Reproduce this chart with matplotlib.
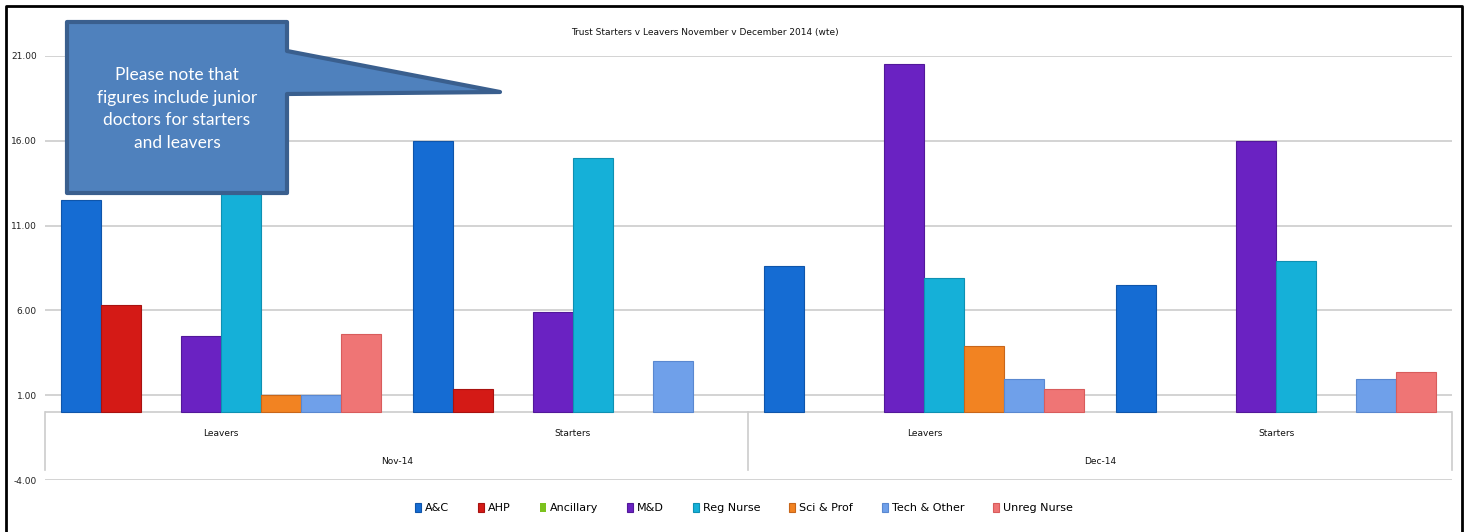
import matplotlib.pyplot as plt
from matplotlib.patches import Polygon
from matplotlib.lines import Line2D
import numpy as np

# ── Données ──
months = ["Nov-14", "Dec-14"]
groups = ["Leavers", "Starters", "Leavers", "Starters"]
staff = ["A&C", "AHP", "Ancillary", "M&D", "Reg Nurse", "Sci & Prof", "Tech & Other", "Unreg Nurse"]
colors = ["#156CD3", "#D41A16", "#7CC21E", "#6A22C2", "#15B0D8", "#F28322", "#6FA0EA", "#EF7575"]
edges = ["#0F55AA", "#A81210", "#5E9A14", "#52189A", "#0E90B2", "#C8661A", "#5A88D0", "#D85C5C"]

nov_leavers = [12.5, 6.3, 0, 4.5, 14.0, 1.0, 1.0, 4.6]
nov_starters = [16.0, 1.35, 0, 5.9, 15.0, 0, 3.0, 0]
dec_leavers = [8.6, 0, 0, 20.5, 7.9, 3.9, 1.95, 1.35]
dec_starters = [7.5, 0, 0, 16.0, 8.9, 0, 1.95, 2.35]
values = np.array([nov_leavers, nov_starters, dec_leavers, dec_starters])

yticks = [-4, 1, 6, 11, 16, 21]

W, H = 1469, 532
fig = plt.figure(figsize=(W / 100, H / 100), dpi=100)
fig.patch.set_facecolor("white")
font = ["DejaVu Sans"]

# zone du graphique (pixels -> fraction)
x0, x1 = 45, 1452
y_top, y_bot = 56, 480
ax = fig.add_axes([x0 / W, 1 - y_bot / H, (x1 - x0) / W, (y_bot - y_top) / H])
ax.set_xlim(-0.5, 3.5)
ax.set_ylim(-4, 21)
for s in ax.spines.values():
    s.set_visible(False)
ax.set_yticks(yticks)
ax.set_yticklabels([f"{t:.2f}" for t in yticks], fontsize=6.5, family=font, color="#222222")
ax.tick_params(axis="y", length=0, pad=6)
ax.set_xticks([])
ax.yaxis.grid(True, color="#CCCCCC", lw=1.2)
ax.set_axisbelow(True)

# ── Barres ──
n = len(staff)
bw = (1 - 0.0909) / n
x = np.arange(len(groups))
for i in range(n):
    pos = x - 0.5 + 0.0909 / 2 + bw * (i + 0.5)
    vals = values[:, i]
    lws = [0.8 if v > 0 else 0 for v in vals]
    ax.bar(pos, vals, bw, color=colors[i], edgecolor=edges[i], linewidth=lws, label=staff[i], zorder=3)

# ── Axe des catégories (multi-niveaux) ──
ax.axhline(0, color="#CCCCCC", lw=1.2, zorder=2)
for xv in [-0.5, 1.5, 3.5]:
    ax.plot([xv, xv], [0, -3.4], color="#CCCCCC", lw=1.2, clip_on=False)
for xi, g in zip(x, groups):
    ax.text(xi, -1.25, g, ha="center", va="center", fontsize=6.5, family=font, color="#111111")
for mi, m in enumerate(months):
    ax.text(0.5 + 2 * mi, -2.9, m, ha="center", va="center", fontsize=6.5, family=font, color="#111111")

# ── Titre ──
fig.text(705 / W, 1 - 32 / H, "Trust Starters v Leavers November v December 2014 (wte)",
         ha="center", va="center", fontsize=6.5, family=font, color="#111111")

# ── Légende ──
leg = fig.legend(loc="center", bbox_to_anchor=(744 / W, 1 - 508 / H), ncol=8, frameon=False,
                 handlelength=0.55, handleheight=0.9, handletextpad=0.35, columnspacing=2.6,
                 prop={"family": font, "size": 8})

# ── Bulle d'annotation ──
def fp(px, py):
    return (px / W, 1 - py / H)

callout = [fp(67, 22), fp(287, 22), fp(287, 51), fp(500, 92), fp(287, 94), fp(287, 193), fp(67, 193)]
fig.patches.append(Polygon(callout, closed=True, transform=fig.transFigure, facecolor="#4F81BD",
                           edgecolor="#3A5F8E", lw=3, joinstyle="round", zorder=10))
fig.text(177 / W, 1 - 109 / H, "Please note that\nfigures include junior\ndoctors for starters\nand leavers",
         ha="center", va="center", fontsize=12.5, family=["Lato", "DejaVu Sans"], color="white",
         linespacing=1.52, zorder=11)

# ── Cadre noir ──
bx = [6 / W, 6 / W, 1462 / W, 1462 / W]
by = [0, 1 - 6 / H, 1 - 6 / H, 0]
fig.lines.append(Line2D(bx, by, transform=fig.transFigure, color="black", lw=2))

plt.savefig("out.png", dpi=100)
